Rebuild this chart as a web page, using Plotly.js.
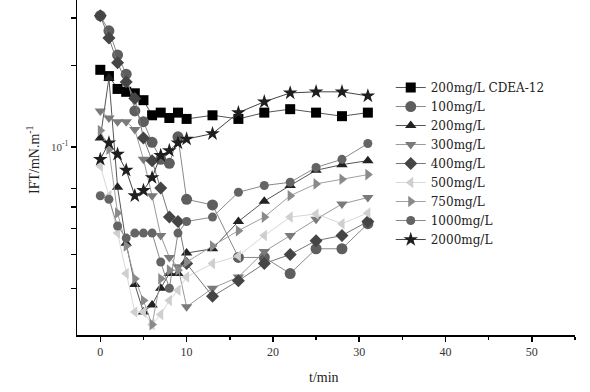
<!DOCTYPE html>
<html>
<head>
<meta charset="utf-8">
<script src="https://cdn.plot.ly/plotly-3.0.1.min.js"></script>
<style>html,body{margin:0;padding:0;background:#fff;}#chart{width:590px;height:392px;}</style>
</head>
<body>
<div id="chart"></div>
<script>
const t = [0,1,2,3,4,5,6,7,8,9,10,13,16,19,22,25,28,31];
const seriesNames = ['200mg/L CDEA-12','100mg/L','200mg/L','300mg/L','400mg/L','500mg/L','750mg/L','1000mg/L','2000mg/L'];
const cdea12 = [0.193,0.183,0.164,0.160,0.158,0.149,0.131,0.134,0.128,0.134,0.127,0.131,0.127,0.134,0.138,0.134,0.130,0.134];
const c100  = [0.306,0.269,0.219,0.186,0.136,0.124,0.104,0.090,0.087,0.109,0.064,0.061,0.039,0.039,0.034,0.042,0.042,0.052];
const c200  = [0.108,0.180,0.071,0.044,0.031,0.0245,0.026,0.030,0.034,0.034,0.0405,0.042,0.053,0.063,0.072,0.082,0.086,0.089];
const c300  = [0.136,0.128,0.124,0.124,0.116,0.090,0.066,0.047,0.039,0.036,0.0256,0.030,0.033,0.041,0.047,0.054,0.0615,0.065];
const c400  = [0.306,0.253,0.205,0.174,0.151,0.108,0.089,0.0705,0.055,0.053,0.037,0.028,0.032,0.037,0.040,0.045,0.047,0.053];
const c500  = [0.085,0.066,0.048,0.034,0.0245,0.0245,0.022,0.024,0.027,0.0295,0.033,0.037,0.0395,0.047,0.055,0.0565,0.052,0.057];
const c750  = [0.115,0.098,0.057,0.043,0.0325,0.027,0.022,0.0325,0.035,0.035,0.0375,0.043,0.049,0.055,0.066,0.073,0.076,0.079];
const c1000 = [0.066,0.064,0.051,0.046,0.048,0.048,0.048,0.0375,0.030,0.048,0.053,0.055,0.068,0.072,0.074,0.084,0.090,0.103];
const c2000 = [0.090,0.1035,0.094,0.082,0.066,0.069,0.077,0.093,0.097,0.1035,0.107,0.112,0.134,0.147,0.1585,0.160,0.160,0.1545];
const yTickVals = [0.03,0.04,0.05,0.06,0.07,0.1,0.2,0.3];
const yTickText = ['','','','','','10<sup>-1</sup>','',''];
const xTickVals = [0,10,20,30,40,50];

const allY = [cdea12,c100,c200,c300,c400,c500,c750,c1000,c2000];
const symbols = ['square','circle','triangle-up','triangle-down','diamond','triangle-left','triangle-right','circle','star'];
const mColors = ['#000000','#5e5e5e','#222222','#7a7a7a','#454545','#cfcfcf','#8a8a8a','#646464','#1e1e1e'];
const lColors = ['#555555','#8a8a8a','#555555','#9a9a9a','#777777','#d8d8d8','#a0a0a0','#8a8a8a','#444444'];
const sizes = [10,11,10,10,10,10,10,9,11];

const font = 'Liberation Serif, Times New Roman, serif';
const legFont = 'DejaVu Serif, Liberation Serif, serif';
const traces = allY.map((y,i)=>({
  x: t, y: y, name: seriesNames[i], type:'scatter', mode:'lines+markers',
  line:{color:lColors[i], width:1},
  marker:{symbol:symbols[i], color:mColors[i], size:sizes[i], line:{width:0}}
}));

const layout = {
  width:590, height:392,
  margin:{l:77,r:15,t:0,b:57},
  paper_bgcolor:'#fff', plot_bgcolor:'#fff',
  showlegend:true,
  font:{family:font, color:'#222'},
  xaxis:{range:[-2.7,55], showline:true, linecolor:'#000', linewidth:1.5, mirror:false,
    ticks:'outside', ticklen:5, tickwidth:1.5, tickcolor:'#000',
    tickmode:'array', tickvals:xTickVals, showgrid:false, zeroline:false,
    minor:{tickmode:'linear', tick0:0, dtick:5, ticks:'outside', ticklen:3, tickwidth:1.5, tickcolor:'#000', showgrid:false},
    tickfont:{family:font, size:12, color:'#333'}},
  yaxis:{type:'log', range:[-1.696,-0.456], showline:true, linecolor:'#000', linewidth:1.5,
    ticks:'outside', ticklen:5, tickwidth:1.2, tickcolor:'#000',
    tickmode:'array', tickvals:yTickVals, ticktext:yTickText, showgrid:false, zeroline:false,
    tickfont:{family:font, size:11, color:'#444'}},
  legend:{x:0.630, y:0.782, xanchor:'left', yanchor:'top', bgcolor:'rgba(0,0,0,0)',
    font:{family:legFont, size:12, color:'#222'}, tracegroupgap:0},
  annotations:[
    {text:'t/min', xref:'paper', yref:'paper', x:(324-77)/498, y:-(377-335)/335, xanchor:'center', yanchor:'middle', showarrow:false, font:{family:font, size:14, color:'#222'}},
    {text:'IFT/mN.m<sup>-1</sup>', xref:'paper', yref:'paper', x:-(77-33)/498, y:(335-160)/335, xanchor:'center', yanchor:'middle', textangle:-90, showarrow:false, font:{family:font, size:14, color:'#222'}}
  ]
};
Plotly.newPlot('chart', traces, layout, {displayModeBar:false, staticPlot:true});
</script>
</body>
</html>
